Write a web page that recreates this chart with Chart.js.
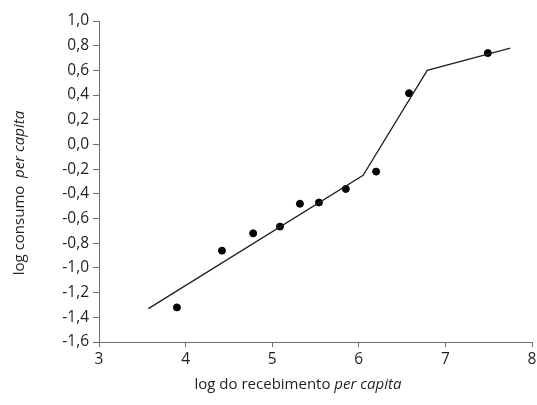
<!DOCTYPE html>
<html>
<head>
<meta charset="utf-8">
<script src="https://cdn.jsdelivr.net/npm/chart.js@4"></script>
<style>
  html, body { margin: 0; padding: 0; background: #fff; }
  #wrap { position: relative; width: 537px; height: 405px; }
</style>
</head>
<body>
<div id="wrap"><canvas id="c" width="537" height="405"></canvas></div>
<script>
// Observed data points (log receipts per capita, log consumption per capita)
const pointX = [3.90, 4.42, 4.78, 5.09, 5.32, 5.54, 5.85, 6.20, 6.58, 7.49];
const pointY = [-1.32, -0.86, -0.72, -0.665, -0.48, -0.47, -0.36, -0.22, 0.415, 0.74];
// Fitted piecewise line
const lineX = [3.57, 6.05, 6.79, 7.75];
const lineY = [-1.33, -0.25, 0.60, 0.78];
// Axis ranges / ticks
const xTicks = [3, 4, 5, 6, 7, 8];
const yMin = -1.6, yMax = 1.0, yStep = 0.2;

const FONT = "'Open Sans', 'Noto Sans', sans-serif";
const TXT = '#231f20';

const titles = {
  id: 'mixedTitles',
  afterDraw(chart) {
    const ctx = chart.ctx;
    const drawMixed = (parts, cx, cy) => {
      let total = 0;
      parts.forEach(p => { ctx.font = p.font; total += ctx.measureText(p.t).width; });
      let x = cx - total / 2;
      parts.forEach(p => {
        ctx.font = p.font;
        ctx.fillText(p.t, x, cy);
        x += ctx.measureText(p.t).width;
      });
    };
    ctx.save();
    ctx.fillStyle = TXT;
    ctx.textBaseline = 'middle';
    ctx.textAlign = 'left';
    const normal = `15px ${FONT}`;
    const ital = `italic 15px ${FONT}`;
    drawMixed([{t: 'log do recebimento ', font: normal}, {t: 'per capita', font: ital}], 298, 385);
    ctx.translate(20, 193);
    ctx.rotate(-Math.PI / 2);
    drawMixed([{t: 'log consumo  ', font: normal}, {t: 'per capita', font: ital}], 0, 0);
    ctx.restore();
  }
};

new Chart(document.getElementById('c'), {
  type: 'scatter',
  data: {
    datasets: [
      {
        label: 'line',
        data: lineX.map((x, i) => ({x, y: lineY[i]})),
        showLine: true,
        borderColor: '#231f20',
        borderWidth: 1.3,
        pointRadius: 0,
        pointHoverRadius: 0,
        tension: 0
      },
      {
        label: 'points',
        data: pointX.map((x, i) => ({x, y: pointY[i]})),
        showLine: false,
        backgroundColor: '#000',
        borderColor: '#000',
        borderWidth: 1,
        pointRadius: 3.5
      }
    ]
  },
  options: {
    responsive: false,
    animation: false,
    devicePixelRatio: 1,
    layout: { padding: { left: 0, top: 21, right: 4, bottom: 0 } },
    plugins: { legend: { display: false }, tooltip: { enabled: false } },
    scales: {
      x: {
        type: 'linear',
        min: xTicks[0], max: xTicks[xTicks.length - 1],
        afterBuildTicks: s => { s.ticks = xTicks.map(v => ({value: v})); },
        afterFit: s => { s.height = 63; s.paddingRight = 0; s.paddingLeft = 0; },
        grid: { drawOnChartArea: false, drawTicks: true, tickLength: 5, color: '#6d6e71', lineWidth: 1 },
        border: { display: true, color: '#6d6e71', width: 1 },
        ticks: { color: TXT, font: { family: FONT, size: 15.5 }, padding: 3, maxRotation: 0 }
      },
      y: {
        type: 'linear',
        min: yMin, max: yMax,
        afterFit: s => { s.width = 99; s.paddingTop = 0; s.paddingBottom = 0; },
        grid: { drawOnChartArea: false, drawTicks: true, tickLength: 6, color: '#6d6e71', lineWidth: 1 },
        border: { display: true, color: '#6d6e71', width: 1 },
        ticks: {
          stepSize: yStep,
          color: TXT,
          font: { family: FONT, size: 15.5 },
          padding: 4,
          callback: v => {
            const r = Math.round(v * 10) / 10;
            return (Math.abs(r) < 1e-9 ? 0 : r).toFixed(1).replace('.', ',');
          }
        }
      }
    }
  },
  plugins: [titles]
});
</script>
</body>
</html>
